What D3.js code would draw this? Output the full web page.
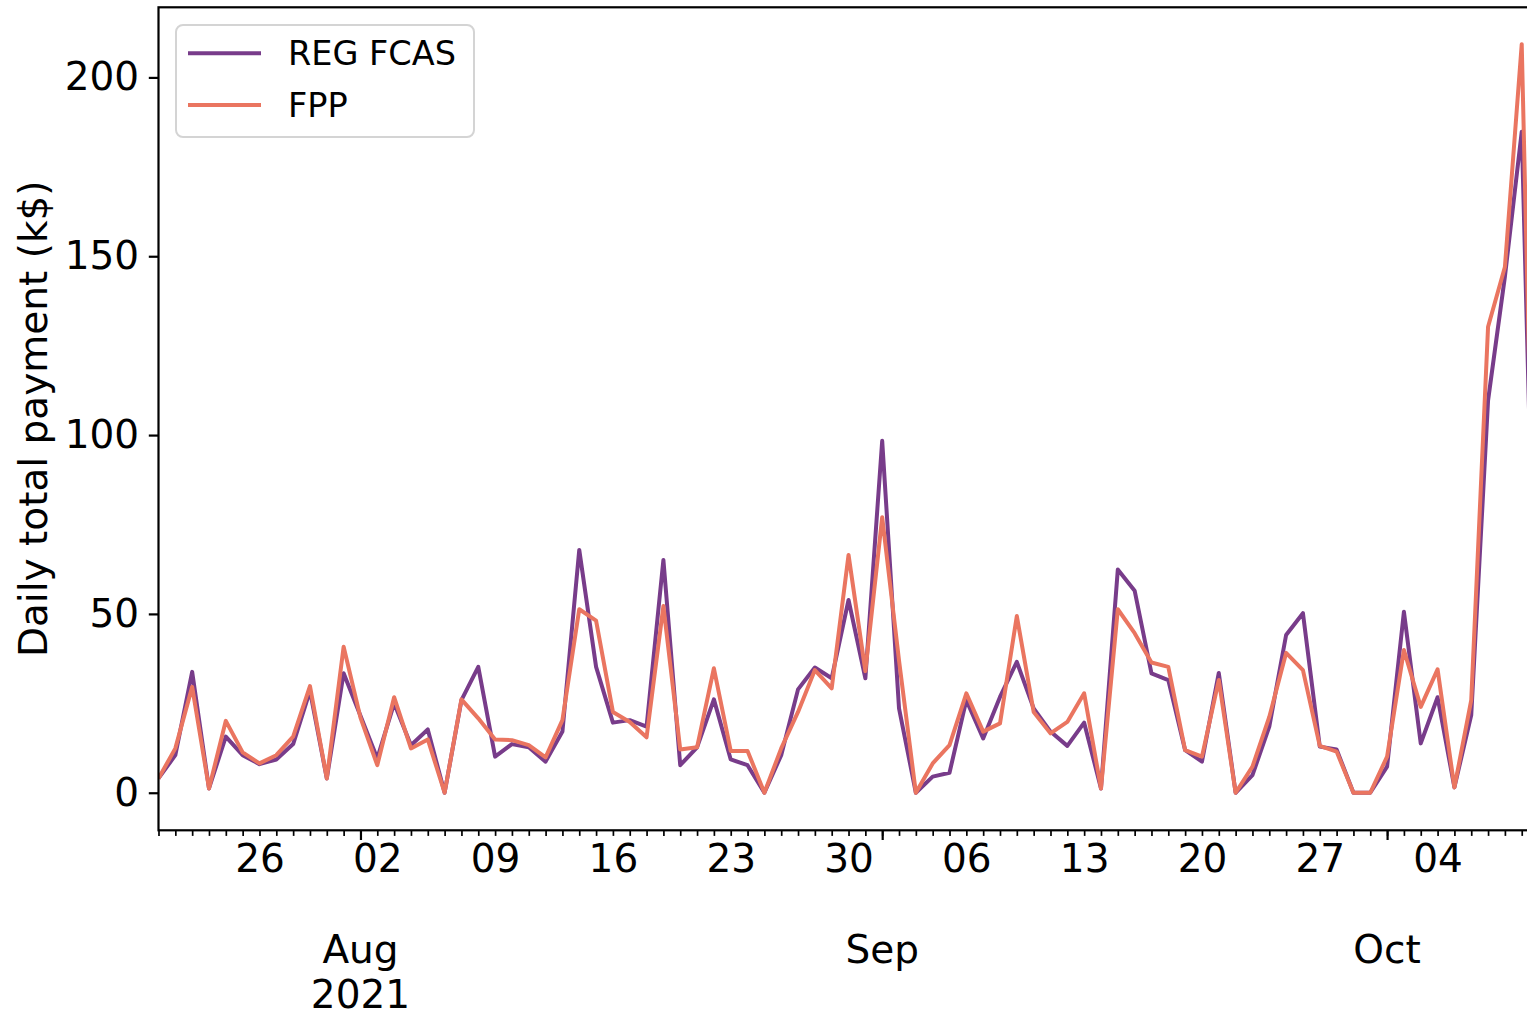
<!DOCTYPE html>
<html>
<head>
<meta charset="utf-8">
<script type="text/javascript" src="https://d3js.org/d3.v7.min.js"></script>
<style>
  body { margin: 0; background: #fff; }
  svg { display: block; font-family: "DejaVu Sans", sans-serif; }
</style>
</head>
<body>
<div id="viz"></div>
<script type="text/javascript">

// daily series, 20 Jul 2021 .. 10 Oct 2021 (last day falls just off the right edge)
var startDay = "2021-07-20";

var regFcas = [4.0, 10.5, 33.8, 1.2, 15.7, 10.5, 8.0, 9.3, 13.6, 28.5,
               4.0, 33.4, 21.5, 9.6, 25.0, 13.3, 17.7, 0, 25.9, 35.2,
               10.1, 13.6, 12.7, 8.7, 17.1, 67.9, 35.2, 19.6, 20.3, 18.5,
               65.1, 7.7, 12.7, 26.1, 9.3, 7.7, 0, 10.5, 28.9, 35.0,
               32.0, 53.9, 32.0, 98.4, 23.6, 0, 4.5, 5.6, 25.9, 15.2,
               26.8, 36.6, 23.6, 17.1, 13.1, 19.6, 1.2, 62.4, 56.5, 33.4,
               31.5, 11.9, 8.7, 33.5, 0, 4.9, 18.5, 44.1, 50.2, 12.9,
               12.1, 0, 0, 7.3, 50.6, 13.8, 26.7, 1.5, 21.7, 109.7,
               144.3, 184.8, 5];

var fpp = [4.0, 12.4, 29.6, 1.2, 20.1, 11.3, 8.2, 10.5, 15.7, 29.8,
           4.0, 40.8, 21.0, 7.7, 26.7, 12.4, 14.9, 0, 26.1, 20.8,
           14.9, 14.7, 13.3, 9.9, 20.3, 51.3, 48.1, 22.6, 19.8, 15.5,
           52.2, 12.1, 12.7, 34.8, 11.7, 11.7, 0, 12.4, 22.6, 34.3,
           29.2, 66.5, 34.0, 77.0, 37.0, 0, 8.2, 13.3, 27.8, 17.1,
           19.4, 49.4, 22.6, 16.6, 19.8, 27.8, 1.2, 51.3, 44.6, 36.4,
           35.2, 11.9, 10.1, 31.5, 0, 7.3, 21.2, 39.1, 34.3, 13.1,
           11.5, 0, 0, 10.1, 39.9, 24.0, 34.5, 1.5, 25.9, 130.3,
           147.0, 209.3, 5];

var seriesNames = ["REG FCAS", "FPP"];
var seriesColors = ["#783c8a", "#ea7560"];
var yTicks = [0, 50, 100, 150, 200];
var monthLabels = [["Aug", "2021"], ["Sep"], ["Oct"]];

var parse = d3.timeParse("%Y-%m-%d");
var day0 = parse(startDay);
var days = regFcas.map(function(d, i){ return d3.timeDay.offset(day0, i); });

var W = 1527, H = 1013;
var pLeft = 158.5, pTop = 7.3, pBottom = 830.3;
var pRight = pLeft + 16.83 * (days.length - 1);

var svg = d3.select("#viz").append("svg")
    .attr("width", W)
    .attr("height", H);

var x = d3.scaleTime()
    .domain([days[0], days[days.length - 1]])
    .range([pLeft, pRight]);

var y = d3.scaleLinear()
    .domain([-10.5, 219.6])
    .range([pBottom, pTop]);

svg.append("clipPath").attr("id", "plotclip")
  .append("rect")
    .attr("x", pLeft).attr("y", pTop)
    .attr("width", pRight - pLeft).attr("height", pBottom - pTop);

// lines
var line = d3.line()
    .x(function(d){ return x(d.date); })
    .y(function(d){ return y(d.v); });

[regFcas, fpp].forEach(function(vals, k){
    var pts = vals.map(function(v, i){ return {date: days[i], v: v}; });
    svg.append("path")
        .datum(pts)
        .attr("clip-path", "url(#plotclip)")
        .attr("d", line)
        .style("fill", "none")
        .style("stroke", seriesColors[k])
        .style("stroke-width", 4)
        .style("stroke-linejoin", "round");
});

// y axis
var yAxis = svg.append("g")
    .attr("transform", "translate(" + pLeft + ",0)")
    .call(d3.axisLeft(y).tickValues(yTicks).tickSize(9.7).tickPadding(9.7));
yAxis.select(".domain").remove();
yAxis.selectAll(".tick line").style("stroke", "#000").style("stroke-width", 2.2);
yAxis.selectAll(".tick text")
    .style("font-size", "39px")
    .style("fill", "#000")
    .attr("font-family", "DejaVu Sans");

// x axis: daily minor ticks, weekly day labels
var mondays = d3.timeMonday.range(days[0], days[days.length - 1]);
var xMinor = svg.append("g")
    .attr("transform", "translate(0," + pBottom + ")")
    .call(d3.axisBottom(x).ticks(d3.timeDay.every(1)).tickSize(5.6).tickFormat(""));
xMinor.select(".domain").remove();
xMinor.selectAll(".tick line").style("stroke", "#000").style("stroke-width", 1.7);

var xLab = svg.append("g")
    .attr("transform", "translate(0," + pBottom + ")")
    .call(d3.axisBottom(x).tickValues(mondays).tickSize(0).tickPadding(0)
        .tickFormat(d3.timeFormat("%d")));
xLab.select(".domain").remove();
xLab.selectAll(".tick text")
    .attr("y", 42)
    .attr("dy", null)
    .style("font-size", "39px")
    .style("fill", "#000")
    .attr("font-family", "DejaVu Sans");

// x axis: month starts, long ticks with month labels below
var months = d3.timeMonth.range(days[0], days[days.length - 1]);
var xMajor = svg.append("g")
    .attr("transform", "translate(0," + pBottom + ")")
    .call(d3.axisBottom(x).tickValues(months).tickSize(9.7).tickFormat(""));
xMajor.select(".domain").remove();
xMajor.selectAll(".tick line").style("stroke", "#000").style("stroke-width", 2.2);

months.forEach(function(m, i){
    var t = svg.append("text")
        .attr("x", x(m))
        .attr("y", 963)
        .attr("text-anchor", "middle")
        .style("font-size", "39px")
        .style("fill", "#000");
    monthLabels[i].forEach(function(s, j){
        t.append("tspan").attr("x", x(m)).attr("dy", j == 0 ? 0 : 45).text(s);
    });
});

// spines
svg.append("rect")
    .attr("x", pLeft).attr("y", pTop)
    .attr("width", pRight - pLeft).attr("height", pBottom - pTop)
    .style("fill", "none")
    .style("stroke", "#000")
    .style("stroke-width", 2.2);

// y label
svg.append("text")
    .attr("transform", "translate(47," + ((pTop + pBottom) / 2) + ") rotate(-90)")
    .attr("text-anchor", "middle")
    .style("font-size", "39px")
    .style("fill", "#000")
    .text("Daily total payment (k$)");

// legend
var lg = svg.append("g");
lg.append("rect")
    .attr("x", 176).attr("y", 25)
    .attr("width", 298).attr("height", 112)
    .attr("rx", 7).attr("ry", 7)
    .style("fill", "#fff")
    .style("fill-opacity", 0.8)
    .style("stroke", "#d4d4d4")
    .style("stroke-width", 2);

seriesNames.forEach(function(name, i){
    var ly = 53.3 + i * 51.7;
    lg.append("line")
        .attr("x1", 188).attr("x2", 261)
        .attr("y1", ly).attr("y2", ly)
        .style("stroke", seriesColors[i])
        .style("stroke-width", 4);
    lg.append("text")
        .attr("x", 288).attr("y", ly + 12)
        .style("font-size", "33.5px")
        .style("fill", "#000")
        .text(name);
});

</script>
</body>
</html>
